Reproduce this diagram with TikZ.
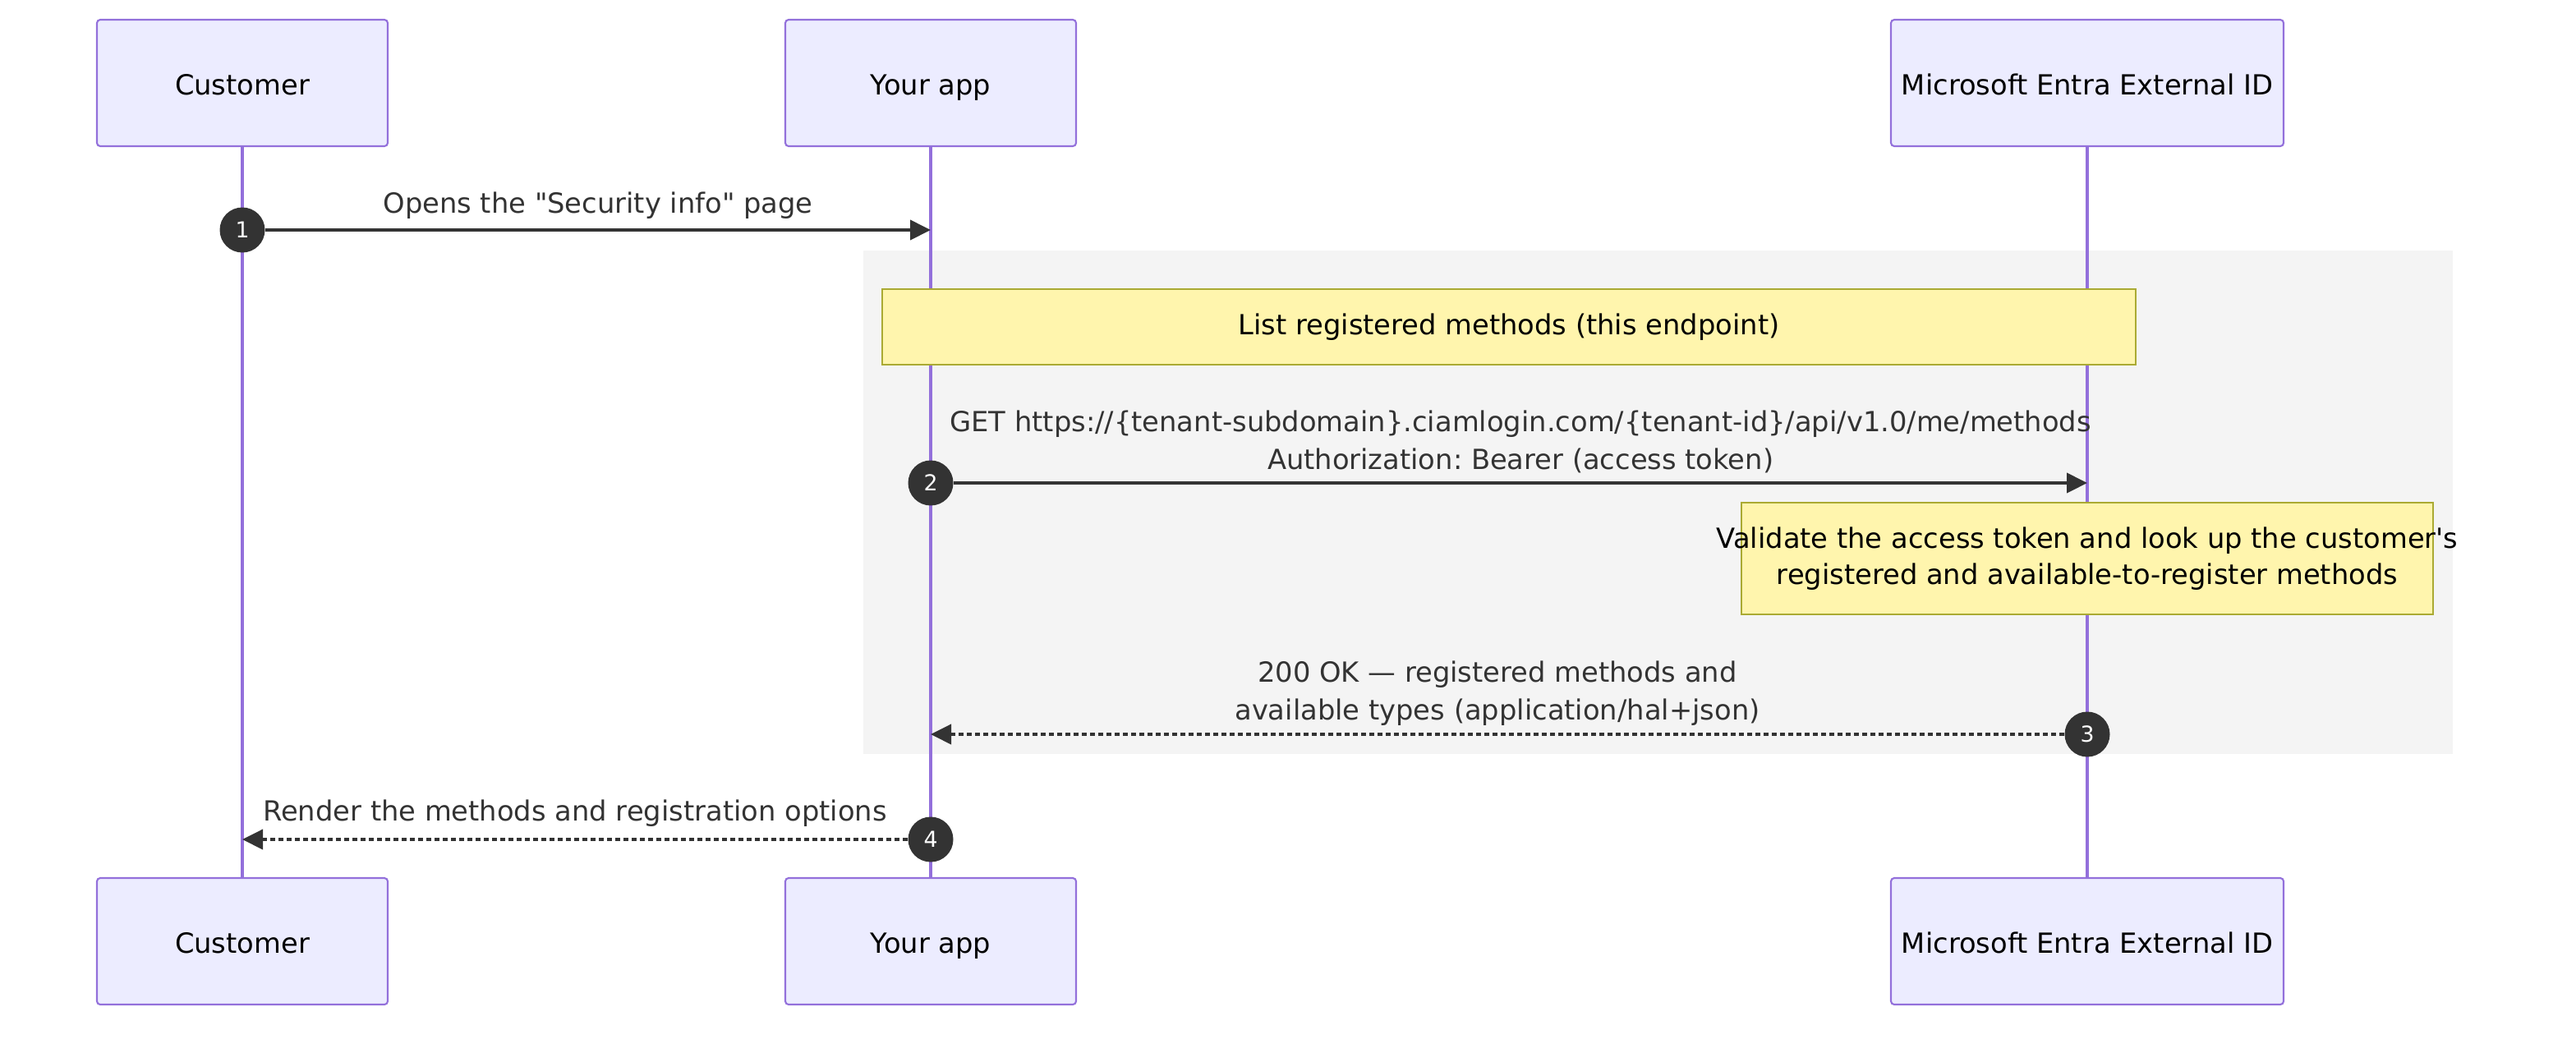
\documentclass[tikz,border=0pt]{standalone}
\usepackage{fontspec}
\setmainfont{DejaVu Sans}[Ligatures=TeXOff]
\usetikzlibrary{arrows.meta, positioning, calc}
\definecolor{actorfill}{HTML}{ECECFF}
\definecolor{actorline}{HTML}{9370DB}
\definecolor{notefill}{HTML}{FFF5AD}
\definecolor{noteline}{HTML}{AAAA33}
\definecolor{blockfill}{HTML}{F4F4F4}
\definecolor{msgcol}{HTML}{333333}
\frenchspacing

\begin{document}
\begin{tikzpicture}[
    actor/.style={draw=actorline, fill=actorfill, line width=0.6pt, rounded corners=0.04cm, minimum height=1.54cm, text=black, text height=0.35cm, text depth=0.07cm, font=\fontsize{9.6}{11.5}\selectfont},
    life/.style={actorline, line width=1pt},
    msg/.style={msgcol, line width=1.1pt, -{Triangle[length=0.25cm, width=0.24cm]}},
    reply/.style={msg, dash pattern=on 0.06cm off 0.04cm},
    msglabel/.style={text=msgcol, align=center, font=\fontsize{9.6}{13}\selectfont},
    note/.style={draw=noteline, fill=notefill, line width=0.6pt, inner sep=0pt},
    notetext/.style={text=black, align=center, font=\fontsize{9.6}{12.5}\selectfont},
    seqnum/.style={circle, fill=msgcol, text=white, inner sep=0pt, minimum size=0.55cm, font=\fontsize{7.6}{8}\selectfont}
]
    \def\xc{2.95}       % customer lifeline
    \def\xa{11.33}      % app lifeline
    \def\xm{25.41}      % entra lifeline
    \def\yt{-1.01}      % top actors
    \def\yb{-11.46}     % bottom actors
    % Page
    \useasboundingbox (0,0) rectangle (31.36,-12.64);
    \fill[white] (0,0) rectangle (31.36,-12.64);
    % Draw the actors
    \node[actor, minimum width=3.54cm] (cust) at (\xc,\yt) {Customer};
    \node[actor, minimum width=3.54cm] (app) at (\xa,\yt) {Your app};
    \node[actor, minimum width=4.78cm] (entra) at (\xm,\yt) {Microsoft Entra External ID};
    \node[actor, minimum width=3.54cm] (cust2) at (\xc,\yb) {Customer};
    \node[actor, minimum width=3.54cm] (app2) at (\xa,\yb) {Your app};
    \node[actor, minimum width=4.78cm] (entra2) at (\xm,\yb) {Microsoft Entra External ID};
    % Draw the highlighted block
    \fill[blockfill] (10.51,-3.05) rectangle (29.86,-9.18);
    % Draw the lifelines
    \draw[life] (cust) -- (cust2);
    \draw[life] (app) -- (app2);
    \draw[life] (entra) -- (entra2);
    % Draw the notes
    \node[note, minimum width=15.26cm, minimum height=0.92cm] (note1) at (18.37,-3.98) {};
    \node[notetext] (ntext1) at (note1) {List registered methods (this endpoint)};
    \node[note, minimum width=8.42cm, minimum height=1.36cm] (note2) at (\xm,-6.80) {};
    \node[notetext] (ntext2) at (note2) {Validate the access token and look up the customer's\\registered and available-to-register methods};
    % Draw the messages
    \node[seqnum] (s1) at (\xc,-2.80) {1};
    \draw[msg] (s1) -- (s1 -| app) node[msglabel, midway, yshift=0.30cm] (l1) {Opens the "Security info" page};
    \node[seqnum] (s2) at (\xa,-5.88) {2};
    \draw[msg] (s2) -- (s2 -| entra) node[msglabel, midway, yshift=0.50cm] (l2) {GET https://\{tenant-subdomain\}.ciamlogin.com/\{tenant-id\}/api/v1.0/me/methods\\Authorization: Bearer (access token)};
    \node[seqnum] (s3) at (\xm,-8.94) {3};
    \draw[reply] (s3) -- (s3 -| app) node[msglabel, midway, yshift=0.50cm] (l3) {200 OK — registered methods and\\available types (application/hal+json)};
    \node[seqnum] (s4) at (\xa,-10.22) {4};
    \draw[reply] (s4) -- (s4 -| cust) node[msglabel, midway, yshift=0.32cm] (l4) {Render the methods and registration options};
\end{tikzpicture}
\end{document}
